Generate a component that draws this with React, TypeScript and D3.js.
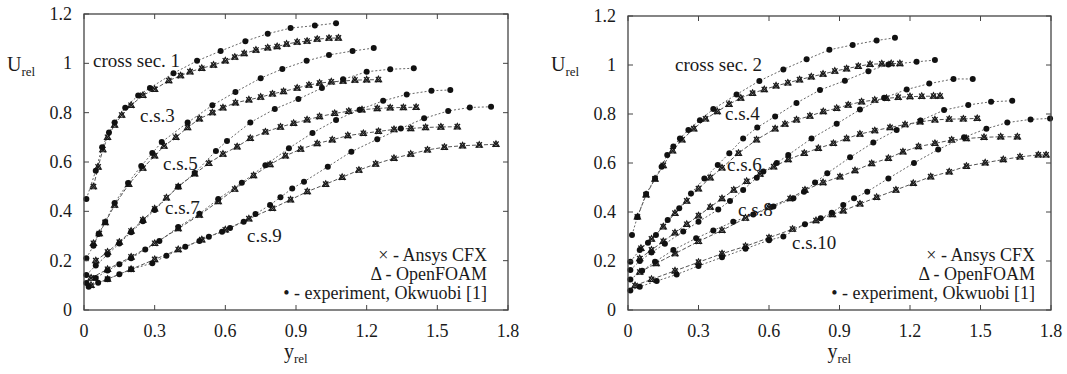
import React from "react";
import * as d3 from "d3";

// axis ticks
const xTicks = [0, 0.3, 0.6, 0.9, 1.2, 1.5, 1.8];
const xTickLabels = ["0", "0.3", "0.6", "0.9", "1.2", "1.5", "1.8"];
const yTicks = [0, 0.2, 0.4, 0.6, 0.8, 1, 1.2];
const yTickLabels = ["0", "0.2", "0.4", "0.6", "0.8", "1", "1.2"];

// left panel: odd cross sections, [y_rel, U_rel]
const cs1Exp = [[0.01,0.45],[0.05,0.565],[0.077,0.66],[0.106,0.72],[0.13,0.76],[0.175,0.82],[0.23,0.87],[0.28,0.9],[0.38,0.96],[0.48,1.01],[0.58,1.05],[0.685,1.09],[0.78,1.12],[0.877,1.143],[0.98,1.153],[1.07,1.163]];
const cs1Sim = [[0.04,0.5],[0.06,0.58],[0.08,0.65],[0.1,0.7],[0.13,0.75],[0.16,0.79],[0.2,0.83],[0.25,0.87],[0.3,0.895],[0.36,0.93],[0.41,0.95],[0.45,0.966],[0.5,0.98],[0.55,0.993],[0.6,1.01],[0.64,1.025],[0.68,1.04],[0.73,1.054],[0.78,1.063],[0.82,1.068],[0.86,1.078],[0.905,1.086],[0.947,1.09],[0.99,1.098],[1.04,1.102],[1.08,1.103]];
const cs3Exp = [[0.01,0.21],[0.04,0.26],[0.062,0.308],[0.09,0.357],[0.13,0.434],[0.187,0.515],[0.243,0.584],[0.29,0.636],[0.33,0.681],[0.44,0.76],[0.545,0.83],[0.643,0.884],[0.75,0.94],[0.842,0.977],[0.945,1.01],[1.04,1.034],[1.14,1.05],[1.23,1.062]];
const cs3Sim = [[0.04,0.27],[0.065,0.31],[0.09,0.355],[0.13,0.425],[0.19,0.51],[0.25,0.575],[0.3,0.625],[0.34,0.665],[0.39,0.7],[0.44,0.74],[0.49,0.775],[0.545,0.8],[0.59,0.82],[0.643,0.84],[0.7,0.852],[0.75,0.863],[0.8,0.876],[0.847,0.886],[0.905,0.9],[0.955,0.912],[1.0,0.92],[1.05,0.925],[1.1,0.928],[1.15,0.932],[1.2,0.933],[1.25,0.934]];
const cs5Exp = [[0.01,0.142],[0.05,0.18],[0.1,0.225],[0.15,0.27],[0.2,0.315],[0.25,0.36],[0.3,0.405],[0.4,0.5],[0.47,0.555],[0.56,0.645],[0.607,0.685],[0.706,0.76],[0.81,0.815],[0.91,0.855],[1.01,0.9],[1.1,0.935],[1.2,0.966],[1.3,0.976],[1.4,0.98]];
const cs5Sim = [[0.05,0.2],[0.1,0.235],[0.15,0.275],[0.2,0.32],[0.25,0.365],[0.3,0.41],[0.35,0.455],[0.4,0.5],[0.47,0.552],[0.53,0.595],[0.59,0.632],[0.65,0.662],[0.706,0.696],[0.77,0.722],[0.834,0.742],[0.89,0.757],[0.947,0.771],[1.0,0.784],[1.064,0.797],[1.124,0.806],[1.18,0.812],[1.245,0.817],[1.3,0.82],[1.356,0.821],[1.41,0.822]];
const cs7Exp = [[0.01,0.109],[0.05,0.13],[0.1,0.16],[0.15,0.185],[0.2,0.21],[0.26,0.245],[0.32,0.28],[0.4,0.336],[0.49,0.39],[0.57,0.45],[0.67,0.516],[0.77,0.587],[0.87,0.656],[0.97,0.718],[1.07,0.77],[1.17,0.812],[1.27,0.848],[1.37,0.874],[1.475,0.889],[1.555,0.892]];
const cs7Sim = [[0.03,0.13],[0.1,0.165],[0.2,0.215],[0.3,0.27],[0.4,0.33],[0.49,0.385],[0.57,0.44],[0.64,0.49],[0.72,0.545],[0.79,0.59],[0.855,0.625],[0.92,0.652],[0.99,0.675],[1.054,0.69],[1.12,0.707],[1.186,0.716],[1.25,0.724],[1.316,0.732],[1.387,0.736],[1.45,0.74],[1.515,0.742],[1.585,0.743]];
const cs9Exp = [[0.02,0.094],[0.06,0.11],[0.1,0.125],[0.15,0.145],[0.2,0.165],[0.29,0.19],[0.35,0.22],[0.43,0.256],[0.49,0.28],[0.53,0.297],[0.586,0.317],[0.62,0.332],[0.678,0.358],[0.728,0.389],[0.79,0.426],[0.834,0.457],[0.884,0.493],[0.934,0.52],[1.035,0.581],[1.135,0.642],[1.245,0.692],[1.345,0.736],[1.444,0.777],[1.546,0.807],[1.638,0.821],[1.728,0.824]];
const cs9Sim = [[0.03,0.1],[0.1,0.125],[0.2,0.165],[0.3,0.205],[0.4,0.245],[0.5,0.285],[0.6,0.325],[0.7,0.37],[0.8,0.412],[0.877,0.447],[0.948,0.48],[1.026,0.51],[1.096,0.538],[1.167,0.567],[1.238,0.592],[1.316,0.615],[1.387,0.632],[1.458,0.649],[1.53,0.66],[1.607,0.666],[1.678,0.669],[1.749,0.672]];

// right panel: even cross sections
const cs2Exp = [[0.017,0.306],[0.04,0.38],[0.077,0.473],[0.115,0.537],[0.143,0.585],[0.167,0.633],[0.193,0.667],[0.221,0.7],[0.257,0.735],[0.306,0.775],[0.363,0.82],[0.462,0.88],[0.559,0.935],[0.661,0.982],[0.76,1.023],[0.857,1.062],[0.956,1.082],[1.058,1.1],[1.136,1.111]];
const cs2Sim = [[0.04,0.38],[0.077,0.47],[0.115,0.535],[0.15,0.59],[0.19,0.65],[0.23,0.695],[0.28,0.74],[0.33,0.78],[0.38,0.81],[0.43,0.84],[0.48,0.865],[0.53,0.885],[0.58,0.9],[0.63,0.915],[0.68,0.927],[0.73,0.94],[0.78,0.952],[0.83,0.963],[0.88,0.975],[0.93,0.985],[0.98,0.995],[1.03,1.003],[1.08,1.005],[1.12,1.006],[1.157,1.006]];
const cs4Exp = [[0.01,0.197],[0.05,0.245],[0.085,0.275],[0.119,0.306],[0.169,0.367],[0.218,0.415],[0.268,0.476],[0.325,0.537],[0.382,0.592],[0.431,0.64],[0.49,0.7],[0.55,0.745],[0.626,0.79],[0.717,0.845],[0.817,0.898],[0.923,0.936],[1.023,0.975],[1.108,1.002],[1.228,1.013],[1.306,1.02]];
const cs4Sim = [[0.055,0.252],[0.1,0.29],[0.15,0.34],[0.2,0.395],[0.25,0.445],[0.3,0.495],[0.35,0.54],[0.4,0.58],[0.47,0.64],[0.547,0.695],[0.626,0.74],[0.668,0.759],[0.717,0.776],[0.774,0.792],[0.831,0.81],[0.888,0.823],[0.937,0.837],[0.994,0.85],[1.05,0.857],[1.1,0.864],[1.15,0.868],[1.2,0.871],[1.25,0.872],[1.3,0.873],[1.328,0.873]];
const cs6Exp = [[0.01,0.163],[0.05,0.2],[0.1,0.235],[0.157,0.27],[0.235,0.32],[0.3,0.36],[0.384,0.41],[0.434,0.445],[0.49,0.49],[0.548,0.54],[0.576,0.565],[0.633,0.6],[0.682,0.633],[0.781,0.7],[0.888,0.76],[0.987,0.818],[1.09,0.866],[1.186,0.9],[1.282,0.924],[1.385,0.943],[1.467,0.943]];
const cs6Sim = [[0.05,0.21],[0.1,0.245],[0.15,0.28],[0.2,0.315],[0.25,0.35],[0.3,0.385],[0.35,0.42],[0.4,0.455],[0.45,0.49],[0.505,0.525],[0.562,0.555],[0.62,0.585],[0.682,0.614],[0.75,0.64],[0.81,0.66],[0.874,0.68],[0.93,0.7],[0.987,0.718],[1.05,0.732],[1.115,0.745],[1.179,0.757],[1.243,0.768],[1.306,0.776],[1.367,0.779],[1.427,0.78],[1.486,0.782]];
const cs8Exp = [[0.01,0.125],[0.06,0.16],[0.115,0.197],[0.193,0.245],[0.29,0.293],[0.363,0.325],[0.448,0.36],[0.533,0.39],[0.619,0.422],[0.704,0.456],[0.749,0.483],[0.796,0.52],[0.848,0.558],[0.945,0.623],[1.044,0.684],[1.143,0.735],[1.245,0.773],[1.345,0.816],[1.448,0.837],[1.545,0.85],[1.635,0.854]];
const cs8Sim = [[0.05,0.155],[0.12,0.19],[0.2,0.23],[0.3,0.28],[0.4,0.325],[0.5,0.375],[0.6,0.42],[0.69,0.455],[0.753,0.49],[0.83,0.52],[0.902,0.544],[0.966,0.569],[1.037,0.598],[1.108,0.619],[1.17,0.646],[1.236,0.667],[1.306,0.68],[1.377,0.694],[1.44,0.7],[1.515,0.705],[1.586,0.707],[1.657,0.707]];
const cs10Exp = [[0.01,0.08],[0.05,0.095],[0.122,0.118],[0.207,0.145],[0.3,0.18],[0.4,0.215],[0.5,0.25],[0.6,0.285],[0.661,0.3],[0.753,0.35],[0.82,0.374],[0.867,0.397],[0.916,0.429],[0.962,0.456],[1.018,0.483],[1.108,0.537],[1.217,0.6],[1.32,0.655],[1.43,0.705],[1.525,0.74],[1.614,0.765],[1.713,0.778],[1.796,0.782]];
const cs10Sim = [[0.03,0.1],[0.1,0.125],[0.2,0.16],[0.3,0.195],[0.4,0.23],[0.5,0.26],[0.6,0.295],[0.7,0.33],[0.8,0.365],[0.87,0.39],[0.916,0.405],[0.987,0.433],[1.058,0.46],[1.14,0.49],[1.214,0.517],[1.288,0.544],[1.367,0.564],[1.44,0.587],[1.52,0.601],[1.597,0.614],[1.668,0.625],[1.746,0.633],[1.779,0.633]];

const leftLabels = ["cross sec. 1", "c.s.3", "c.s.5", "c.s.7", "c.s.9"];
const rightLabels = ["cross sec. 2", "c.s.4", "c.s.6", "c.s.8", "c.s.10"];
const legendItems = ["\u00d7 - Ansys CFX", "\u0394 - OpenFOAM", "\u2022 - experiment, Okwuobi [1]"];

const FONT = "Liberation Serif, Times New Roman, DejaVu Serif, serif";
const INK = "#1a1a1a";

type Pt = number[];

function Panel({ x0, x1, yTop, sections, labels, labelPos, legendX }: any) {
  const x = d3.scaleLinear().domain([0, 1.8]).range([x0, x1]);
  const y = d3.scaleLinear().domain([0, 1.2]).range([310, yTop]);
  const line = d3.line<Pt>().x((d) => x(d[0])).y((d) => y(d[1]));
  const y0 = y(0);
  const tk = 5;
  const txt = { fontFamily: FONT, fill: INK };

  return (
    <g>
      {/* curves */}
      {sections.map((s: any, i: number) => (
        <g key={i}>
          <path d={line(s.sim) || ""} fill="none" stroke="#555" strokeWidth={1} strokeDasharray="4,2" />
          <path d={line(s.exp) || ""} fill="none" stroke="#666" strokeWidth={1} strokeDasharray="2,2" />
          {s.sim.map((d: Pt, j: number) => {
            const cx = x(d[0]);
            const cy = y(d[1]);
            return (
              <g key={"s" + j} stroke="#1a1a1a" strokeWidth={1.2} fill="none">
                <path d={`M${cx - 2.7},${cy - 2.7}L${cx + 2.7},${cy + 2.7}M${cx - 2.7},${cy + 2.7}L${cx + 2.7},${cy - 2.7}`} />
                <path d={`M${cx},${cy - 3.3}L${cx + 3.1},${cy + 2.1}L${cx - 3.1},${cy + 2.1}Z`} />
              </g>
            );
          })}
          {s.exp.map((d: Pt, j: number) => (
            <circle key={"e" + j} cx={x(d[0])} cy={y(d[1])} r={3} fill="#111" />
          ))}
        </g>
      ))}

      {/* frame */}
      <rect x={x0} y={yTop} width={x1 - x0} height={y0 - yTop} fill="none" stroke="#444" strokeWidth={1.3} />
      {xTicks.map((t, i) => (
        <g key={"xt" + i}>
          <line x1={x(t)} x2={x(t)} y1={y0} y2={y0 - tk} stroke="#444" />
          <line x1={x(t)} x2={x(t)} y1={yTop} y2={yTop + tk} stroke="#444" />
          <text x={x(t)} y={337} textAnchor="middle" fontSize={18} style={txt}>
            {xTickLabels[i]}
          </text>
        </g>
      ))}
      {yTicks.map((t, i) => (
        <g key={"yt" + i}>
          <line x1={x0} x2={x0 + tk} y1={y(t)} y2={y(t)} stroke="#444" />
          <line x1={x1} x2={x1 - tk} y1={y(t)} y2={y(t)} stroke="#444" />
          <text x={x0 - 12} y={y(t) + 6} textAnchor="end" fontSize={18} style={txt}>
            {yTickLabels[i]}
          </text>
        </g>
      ))}

      {/* axis titles */}
      <text x={x0 - 77} y={71} fontSize={20} style={txt}>
        U<tspan fontSize={13} dy={5}>rel</tspan>
      </text>
      <text x={(x0 + x1) / 2 - 12} y={358} fontSize={20} style={txt}>
        y<tspan fontSize={13} dy={5}>rel</tspan>
      </text>

      {/* section labels */}
      {labels.map((l: string, i: number) => (
        <text key={"l" + i} x={labelPos[i][0]} y={labelPos[i][1]} fontSize={19} style={txt}>
          {l}
        </text>
      ))}

      {/* legend */}
      {legendItems.map((l, i) => (
        <text key={"lg" + i} x={legendX} y={261 + i * 19} textAnchor="end" fontSize={18} style={txt}>
          {l}
        </text>
      ))}
    </g>
  );
}

export default function App() {
  const left = [
    { exp: cs1Exp, sim: cs1Sim },
    { exp: cs3Exp, sim: cs3Sim },
    { exp: cs5Exp, sim: cs5Sim },
    { exp: cs7Exp, sim: cs7Sim },
    { exp: cs9Exp, sim: cs9Sim },
  ];
  const right = [
    { exp: cs2Exp, sim: cs2Sim },
    { exp: cs4Exp, sim: cs4Sim },
    { exp: cs6Exp, sim: cs6Sim },
    { exp: cs8Exp, sim: cs8Sim },
    { exp: cs10Exp, sim: cs10Sim },
  ];
  return (
    <svg width={1067} height={374} style={{ position: "absolute", left: 0, top: 0, background: "#fff" }}>
      <Panel
        x0={84}
        x1={508}
        yTop={14}
        sections={left}
        labels={leftLabels}
        labelPos={[[93, 67], [140, 122], [163, 170], [165, 214], [247, 242]]}
        legendX={487}
      />
      <Panel
        x0={628}
        x1={1051}
        yTop={16}
        sections={right}
        labels={rightLabels}
        labelPos={[[675, 71], [725, 120], [727, 171], [738, 216], [792, 249]]}
        legendX={1035}
      />
    </svg>
  );
}
